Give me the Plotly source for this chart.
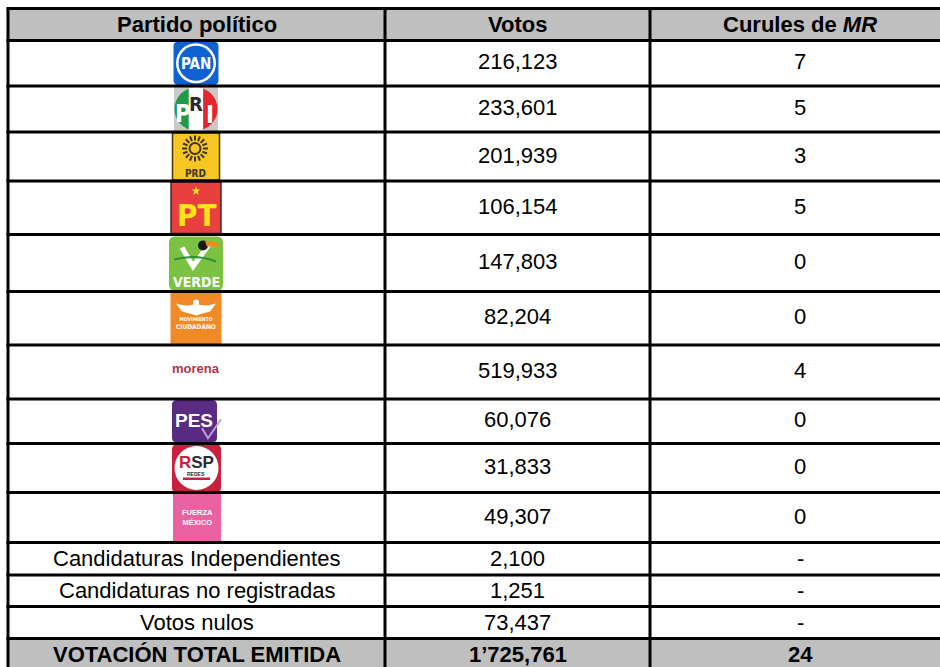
import numpy as np
import plotly.graph_objects as go

# ---------------- data ----------------
headers = ["Partido político", "Votos", "Curules de <i>MR</i>"]
partidos = ["PAN", "PRI", "PRD", "PT", "VERDE", "MC", "morena", "PES", "RSP", "FXM"]
otros = ["Candidaturas Independientes", "Candidaturas no registradas", "Votos nulos"]
votos_partidos = [216123, 233601, 201939, 106154, 147803, 82204, 519933, 60076, 31833, 49307]
votos_otros = [2100, 1251, 73437]
curules_partidos = [7, 5, 3, 5, 0, 0, 4, 0, 0, 0]
curules_otros = ["-", "-", "-"]
total_label = "VOTACIÓN TOTAL EMITIDA"

# ---------------- layout (not data) ----------------
W, H = 940, 667
col_edges = [8, 385, 650, 950]
top = 8.5
row_heights = [32, 45.5, 46, 49, 53.5, 57, 53.5, 54, 44.5, 49, 50, 32.5, 31.5, 32, 32]
row_edges = [top] + list(top + np.cumsum(row_heights))
LINE_W = 3
GRAY = "#bfbfbf"
FONT = "Liberation Sans, Arial, sans-serif"
COND = "DejaVu Sans Condensed, DejaVu Sans, sans-serif"
ARIAL = "Liberation Sans, Arial, sans-serif"
FS = 22

fig = go.Figure()
shapes = []
ann = []


def fmt(v):
    s = f"{v:,}"
    parts = s.split(",")
    if len(parts) > 2:
        s = "’".join(parts[:-2]) + "’" + ",".join(parts[-2:])
    return s


def rect(x0, y0, x1, y1, fill, line=None, lw=0, layer="above"):
    shapes.append(dict(type="rect", xref="x", yref="y", x0=x0, y0=y0, x1=x1, y1=y1,
                       fillcolor=fill, line=dict(color=line or fill, width=lw), layer=layer))


def path(d, fill=None, line=None, lw=0):
    shapes.append(dict(type="path", xref="x", yref="y", path=d,
                       fillcolor=fill if fill else "rgba(0,0,0,0)",
                       line=dict(color=line or "rgba(0,0,0,0)", width=lw), layer="above"))


def rrect(x0, y0, x1, y1, r, fill, line=None, lw=0):
    d = (f"M{x0+r},{y0} L{x1-r},{y0} Q{x1},{y0} {x1},{y0+r} L{x1},{y1-r} Q{x1},{y1} {x1-r},{y1} "
         f"L{x0+r},{y1} Q{x0},{y1} {x0},{y1-r} L{x0},{y0+r} Q{x0},{y0} {x0+r},{y0} Z")
    path(d, fill, line, lw)


def circle(cx, cy, r, fill, line=None, lw=0):
    shapes.append(dict(type="circle", xref="x", yref="y", x0=cx - r, y0=cy - r, x1=cx + r, y1=cy + r,
                       fillcolor=fill, line=dict(color=line or fill, width=lw), layer="above"))


def line(x0, y0, x1, y1, color="black", lw=LINE_W):
    shapes.append(dict(type="line", xref="x", yref="y", x0=x0, y0=y0, x1=x1, y1=y1,
                       line=dict(color=color, width=lw), layer="above"))


def text(x, y, t, size=FS, color="black", family=FONT):
    ann.append(dict(x=x, y=y, xref="x", yref="y", text=t, showarrow=False,
                    font=dict(family=family, size=size, color=color),
                    xanchor="center", yanchor="middle"))


def strip(cx, cy, R, xa, xb, n=40):
    xs = np.linspace(xa, xb, n)
    h = np.sqrt(np.clip(R**2 - (xs - cx)**2, 0, None))
    pts = list(zip(xs, cy - h)) + list(zip(xs[::-1], (cy + h)[::-1]))
    return "M" + " L".join(f"{x:.2f},{y:.2f}" for x, y in pts) + " Z"


def star(cx, cy, ro, ri):
    pts = []
    for k in range(10):
        a = -np.pi / 2 + k * np.pi / 5
        r = ro if k % 2 == 0 else ri
        pts.append((cx + r * np.cos(a), cy + r * np.sin(a)))
    return "M" + " L".join(f"{x:.2f},{y:.2f}" for x, y in pts) + " Z"


# ---------------- backgrounds ----------------
rect(col_edges[0], row_edges[0], W, row_edges[1], GRAY, layer="below")
rect(col_edges[0], row_edges[-2], W, row_edges[-1], GRAY, layer="below")

# ---------------- header ----------------
col_centers = [(col_edges[i] + col_edges[i + 1]) / 2 for i in range(3)]
ycen = [(row_edges[i] + row_edges[i + 1]) / 2 for i in range(len(row_edges) - 1)]
for i, h in enumerate(headers):
    text(col_centers[i], ycen[0], f"<b>{h}</b>", size=FS)

# ---------------- body values ----------------
for i, (v, c) in enumerate(zip(votos_partidos, curules_partidos)):
    text(col_centers[1], ycen[i + 1] - 1.5, fmt(v))
    text(col_centers[2], ycen[i + 1] - 1.5, str(c))
n0 = len(partidos) + 1
for j, (name, v, c) in enumerate(zip(otros, votos_otros, curules_otros)):
    text(col_centers[0], ycen[n0 + j], name)
    text(col_centers[1], ycen[n0 + j], fmt(v))
    text(col_centers[2], ycen[n0 + j], c)

total_votos = sum(votos_partidos) + sum(votos_otros)
total_curules = sum(curules_partidos)
text(col_centers[0], ycen[-1], f"<b>{total_label}</b>")
text(col_centers[1], ycen[-1], f"<b>{fmt(total_votos)}</b>")
text(col_centers[2], ycen[-1], f"<b>{total_curules}</b>")


# ---------------- logos ----------------
def logo(name, r0, r1):
    cx = 196
    cy = (r0 + r1) / 2
    if name == "PAN":
        rrect(cx - 22.5, r0 + 1, cx + 22.5, r1 - 1, 5, "#0f62d1")
        circle(cx, cy, 20, "white")
        circle(cx, cy, 17.5, "#0f62d1")
        text(cx, cy + 1, "<b>PAN</b>", 15, "white", COND)
    elif name == "PRI":
        rect(cx - 22, r0 + 1, cx + 22, r1 - 1, "#c9c9c9")
        R = 21.5
        path(strip(cx, cy, R, cx - R, cx - R / 3), "#1f9a48")
        path(strip(cx, cy, R, cx - R / 3, cx + R / 3), "white")
        path(strip(cx, cy, R, cx + R / 3, cx + R), "#e3262f")
        text(cx - 13.5, cy + 5, "<b>P</b>", 24, "white", COND)
        text(cx, cy - 5, "<b>R</b>", 20, "#2b2b2b", COND)
        text(cx + 14, cy + 6, "<b>I</b>", 24, "white", COND)
    elif name == "PRD":
        rect(cx - 23.5, r0 + 1, cx + 23.5, r1 - 1, "#f7c623", "#4a3a12", 1.5)
        sx, sy = cx - 1, cy - 8
        for k in range(16):
            a = k * np.pi / 8
            line(sx + 8 * np.cos(a), sy + 8 * np.sin(a), sx + 13 * np.cos(a), sy + 13 * np.sin(a), "#3d3520", 2)
        circle(sx, sy, 5.5, "#f7c623", "#3d3520", 2)
        text(cx - 1, r1 - 8, "<b>PRD</b>", 10, "#3d3520", COND)
    elif name == "PT":
        rect(cx - 25, r0 + 1, cx + 25, r1 - 1, "#e8403d", "#3d2b2b", 1.5)
        path(star(cx, r0 + 10, 4.5, 2), "#ffe41a")
        text(cx, cy + 7, "<b>PT</b>", 31, "#ffe41a", COND)
    elif name == "VERDE":
        rrect(cx - 27, r0 + 2, cx + 27, r1 - 1, 6, "#7cc242")
        path(f"M{cx-14},{r0+13} L{cx-3},{r0+32} L{cx+13},{r0+10}", None, "white", 5)
        path(f"M{cx-22},{r0+25} Q{cx},{r0+19} {cx+20},{r0+27}", None, "#2f8d3b", 2)
        circle(cx + 7, r0 + 11, 5, "#1a1a1a")
        path(f"M{cx+9},{r0+7} Q{cx+20},{r0+5} {cx+24},{r0+12} L{cx+11},{r0+12} Z", "#f08a1c")
        text(cx, r1 - 10, "<b>VERDE</b>", 14, "white", COND)
    elif name == "MC":
        rect(cx - 25.5, r0 + 1, cx + 25.5, r1 - 1, "#ef8a26")
        path(f"M{cx-20},{r0+12} Q{cx-8},{r0+16} {cx},{r0+12} Q{cx+8},{r0+16} {cx+20},{r0+12} "
             f"L{cx+14},{r0+20} Q{cx+6},{r0+22} {cx},{r0+24} Q{cx-6},{r0+22} {cx-14},{r0+20} Z", "white")
        circle(cx, r0 + 11, 3, "white")
        text(cx, r0 + 31.5, "<b><span style='font-size:5px'>MOVIMIENTO</span><br>CIUDADANO</b>",
             6.5, "white", COND)
    elif name == "morena":
        text(cx, cy - 4, "<b>morena</b>", 13, "#b43349", ARIAL)
    elif name == "PES":
        rrect(cx - 24, r0 + 1, cx + 21, r1 - 1, 5, "#5a2b83")
        path(f"M{cx+6},{cy+7} L{cx+12},{cy+17} L{cx+25},{cy-2}", None, "#b9a3d9", 2)
        text(cx - 2, cy - 1, "<b>PES</b>", 19, "white", ARIAL)
    elif name == "RSP":
        rrect(cx - 24, r0 + 1, cx + 25, r1, 5, "#c9213d")
        circle(cx + 0.5, cy, 22, "white")
        text(cx, cy - 6, "<b><span style='color:#c9213d'>R</span>SP</b>", 17, "#2b2b2b", ARIAL)
        text(cx, cy + 6, "<b>REDES</b>", 5, "#2b2b2b", ARIAL)
        rect(cx - 13, cy + 9.5, cx + 14, cy + 12, "#c9213d")
    elif name == "FXM":
        rect(cx - 23, r0 + 1, cx + 25, r1 - 1, "#ea62a0")
        text(cx + 1, cy, "<b>FUERZA<br>MÉXICO</b>", 7.5, "white", ARIAL)


for i, p in enumerate(partidos):
    logo(p, row_edges[i + 1], row_edges[i + 2])

# ---------------- grid lines ----------------
for y in row_edges:
    line(col_edges[0] - 1.5, y, W + 20, y)
for x in col_edges:
    line(x, row_edges[0], x, row_edges[-1])

fig.add_trace(go.Scatter(x=[0, W], y=[0, H], mode="markers", marker=dict(opacity=0), hoverinfo="skip",
                         showlegend=False))
fig.update_layout(
    width=W, height=H, margin=dict(l=0, r=0, t=0, b=0),
    paper_bgcolor="white", plot_bgcolor="white",
    xaxis=dict(range=[0, W], visible=False, fixedrange=True),
    yaxis=dict(range=[H, 0], visible=False, fixedrange=True),
    shapes=shapes, annotations=ann, showlegend=False,
)
fig.write_html("out.html", config={"displayModeBar": False},
               post_script="document.body.style.margin='0px';document.body.style.overflow='hidden';")
